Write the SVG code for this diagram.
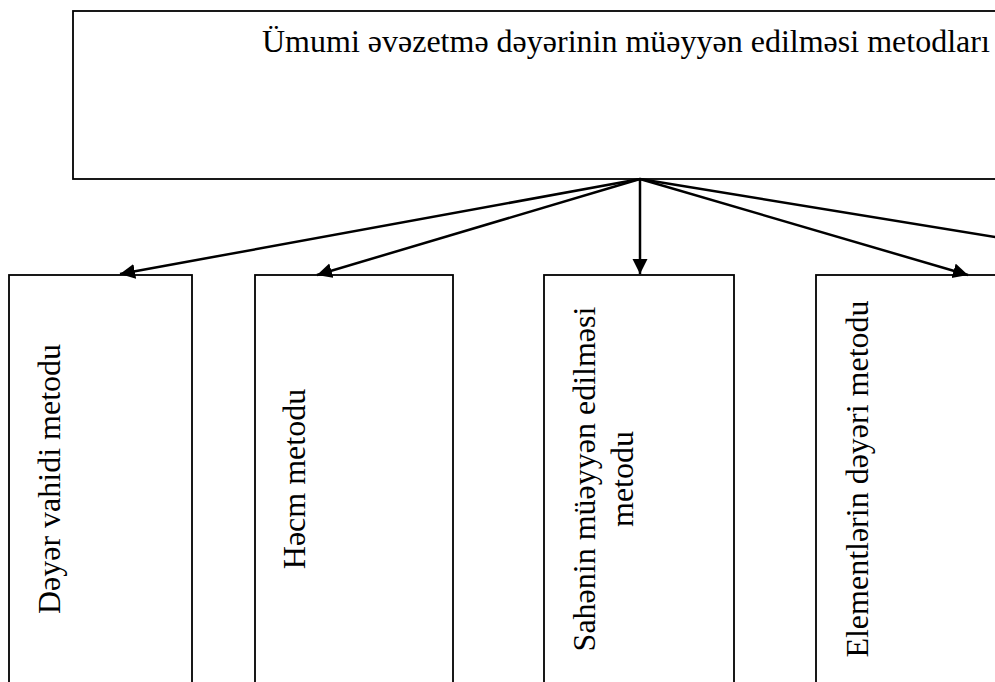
<svg xmlns="http://www.w3.org/2000/svg" width="995" height="682" viewBox="0 0 995 682">
<defs>
<style>
.box{fill:#fff;stroke:#000;stroke-width:1.8}
.t{font-family:"Liberation Serif","Times New Roman",serif;font-size:32px;fill:#000}
.c{stroke:#000;stroke-width:2.5;fill:none}
</style>
<marker id="ah" markerUnits="userSpaceOnUse" markerWidth="16" markerHeight="16" refX="15" refY="7.5" orient="auto" viewBox="0 0 16 16">
<path d="M0,0 L15,7.5 L0,15 z" fill="#000"/>
</marker>
</defs>
<rect width="995" height="682" fill="#fff"/>
<g id="top">
<rect class="box" x="73" y="11" width="940" height="168"/>
<text class="t" x="262" y="52">Ümumi əvəzetmə dəyərinin müəyyən edilməsi metodları</text>
</g>
<g id="n1">
<rect class="box" x="9" y="275" width="183" height="430"/>
<text class="t" transform="translate(60,479) rotate(-90)" text-anchor="middle">Dəyər vahidi metodu</text>
</g>
<g id="n2">
<rect class="box" x="255" y="275" width="198" height="430"/>
<text class="t" transform="translate(305,479) rotate(-90)" text-anchor="middle">Həcm metodu</text>
</g>
<g id="n3">
<rect class="box" x="544" y="275" width="190" height="430"/>
<text class="t" transform="translate(595,479) rotate(-90)" text-anchor="middle">Sahənin müəyyən edilməsi</text>
<text class="t" transform="translate(633,479) rotate(-90)" text-anchor="middle">metodu</text>
</g>
<g id="n4">
<rect class="box" x="816" y="275" width="200" height="430"/>
<text class="t" transform="translate(868,479) rotate(-90)" text-anchor="middle">Elementlərin dəyəri metodu</text>
</g>
<g id="connectors">
<line class="c" x1="640" y1="179" x2="120" y2="274" marker-end="url(#ah)"/>
<line class="c" x1="640" y1="179" x2="317" y2="275" marker-end="url(#ah)"/>
<line class="c" x1="640" y1="179" x2="640" y2="274" marker-end="url(#ah)"/>
<line class="c" x1="640" y1="179" x2="968" y2="275" marker-end="url(#ah)"/>
<line class="c" x1="640" y1="179" x2="1221" y2="274"/>
</g>
</svg>
